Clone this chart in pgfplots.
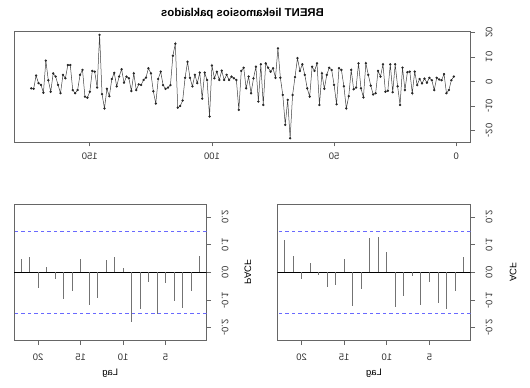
\documentclass[border=0pt]{standalone}
\usepackage{fontspec}
\setmainfont{Liberation Sans}
\usepackage{graphicx}
\usepackage{pgfplots}
\pgfplotsset{compat=1.18}
\definecolor{boxc}{gray}{0.40}
\definecolor{rblue}{RGB}{105,105,255}
\newcommand{\tickfont}{\fontsize{9.5}{11}\selectfont}
\newcommand{\mr}[1]{\reflectbox{#1}}
\pgfplotsset{
  rpanel/.style={
    scale only axis,
    x dir=reverse,
    axis line style={boxc, line width=0.7bp},
    tick style={boxc, line width=0.7bp},
    tick align=outside,
    major tick length=4.5bp,
    xtick pos=left, ytick pos=right,
    yticklabel pos=right,
    tick label style={font=\tickfont, text=black!80},
    yticklabel style={rotate=-90, anchor=south},
  },
  cibar/.style={color=rblue, line width=0.8bp, dash pattern=on 3.5bp off 3bp},
}
\pgfplotstableread{
t v
1 2.0
2 0.5
3 -3.5
4 -4.8
5 3.0
6 0.5
7 0.8
8 1.5
9 -3.5
10 0.5
11 1.5
12 -0.5
13 1.2
14 -0.8
15 1.0
16 -1.5
17 4.0
18 -4.8
19 4.0
20 3.8
21 -3.5
22 5.6
23 -9.6
24 -2.0
25 7.0
26 -4.4
27 7.0
28 -3.8
29 -4.2
30 7.0
31 2.0
32 4.3
33 -4.8
34 -5.3
35 -1.7
36 2.7
37 7.4
38 -6.5
39 -2.8
40 7.4
41 -2.5
42 -3.2
43 4.7
44 -6.0
45 -11.0
46 -2.0
47 4.7
48 5.4
49 -9.3
50 -1.4
51 4.7
52 5.6
53 2.7
54 -3.0
55 3.3
56 -9.6
57 7.4
58 4.3
59 6.0
60 -6.2
61 -2.8
62 2.7
63 7.0
64 4.3
65 9.5
66 1.8
67 -5.5
68 -23.2
69 -7.5
70 -17.7
71 -5.5
72 1.5
73 13.5
74 1.5
75 5.4
76 4.0
77 5.6
78 7.4
79 -9.6
80 7.0
81 -8.2
82 6.0
83 1.3
84 -4.8
85 2.0
86 -2.8
87 5.6
88 4.3
89 -11.6
90 0.6
91 1.3
92 2.0
93 0.6
94 2.7
95 0.6
96 4.4
97 0.6
98 4.0
99 1.3
100 6.5
101 -14.3
102 0.6
103 3.6
104 -7.0
105 3.6
106 -0.7
107 2.7
108 -2.0
109 1.5
110 8.0
111 1.5
112 -7.8
113 -10.0
114 -10.7
115 15.4
116 10.5
117 -1.5
118 -2.5
119 -3.0
120 -1.5
121 4.0
122 1.0
123 -9.0
124 -4.0
125 3.3
126 5.4
127 1.6
128 0.6
129 -1.4
130 -1.2
131 -3.5
132 3.3
133 -3.9
134 1.3
135 2.0
136 -0.5
137 5.0
138 2.0
139 -2.0
140 3.5
141 1.0
142 -6.0
143 -3.0
144 -11.0
145 -5.2
146 19.0
147 -2.5
148 4.0
149 4.3
150 -4.2
151 -6.6
152 -6.2
153 4.7
154 2.7
155 -3.5
156 -4.8
157 -3.5
158 6.7
159 6.7
160 1.3
161 2.7
162 -4.8
163 -1.4
164 2.0
165 3.3
166 -4.2
167 0.5
168 8.5
169 -4.6
170 -1.4
171 -0.7
172 2.4
173 -3.0
174 -2.8
}\resid
\pgfplotstableread{
lag acf
1 0.057
2 -0.066
3 -0.134
4 -0.112
5 -0.034
6 -0.118
7 -0.012
8 -0.086
9 -0.124
10 0.072
11 0.129
12 0.124
13 -0.061
14 -0.120
15 0.048
16 -0.047
17 -0.052
18 -0.011
19 0.033
20 -0.025
21 0.059
22 0.117
}\acftab
\pgfplotstableread{
lag pacf
1 0.058
2 -0.069
3 -0.128
4 -0.102
5 -0.040
6 -0.149
7 -0.036
8 -0.131
9 -0.181
10 0.017
11 0.054
12 0.043
13 -0.093
14 -0.119
15 0.049
16 -0.067
17 -0.095
18 -0.025
19 0.020
20 -0.058
21 0.055
22 0.048
}\pacftab
\begin{document}
\begin{tikzpicture}[x=1bp,y=1bp]
\useasboundingbox (0,0) rectangle (530,387);
% time series panel (mirrored layout)
\begin{axis}[rpanel, at={(14.3bp,245bp)}, anchor=south west,
  width=456.4bp, height=110.3bp,
  xmin=-5.92, xmax=180.92, ymin=-24.7, ymax=20.3,
  xtick={0,50,100,150}, xticklabels={\mr{0},\mr{50},\mr{100},\mr{150}},
  ytick={-20,-10,0,10,20}, yticklabels={\mr{-20},\mr{-10},\mr{0},\mr{10},\mr{20}},
  xticklabel shift=3bp, yticklabel shift=7bp]
\addplot[black!75, line width=0.5bp, mark=*, mark size=0.9bp,
  mark options={fill=black!85, draw=black!85}] table[x=t, y=v] {\resid};
\end{axis}
% ACF panel
\begin{axis}[rpanel, at={(277.3bp,46.3bp)}, anchor=south west,
  width=193.4bp, height=136.7bp,
  xmin=0.16, xmax=22.84, ymin=-0.247, ymax=0.247,
  xtick={5,10,15,20}, xticklabels={\mr{5},\mr{10},\mr{15},\mr{20}},
  ytick={-0.2,-0.1,0,0.1,0.2}, yticklabels={\mr{-0.2},\mr{-0.1},\mr{0.0},\mr{0.1},\mr{0.2}},
  xticklabel shift=5bp, yticklabel shift=7bp]
\addplot[black, line width=0.6bp] coordinates {(0.16,0) (22.84,0)};
\addplot[cibar] coordinates {(0.16,0.1486) (22.84,0.1486)};
\addplot[cibar] coordinates {(0.16,-0.1486) (22.84,-0.1486)};
\addplot[ycomb, black!55, line width=0.9bp] table[x=lag, y=acf] {\acftab};
\end{axis}
% PACF panel
\begin{axis}[rpanel, at={(14bp,46.3bp)}, anchor=south west,
  width=192.7bp, height=136.7bp,
  xmin=0.16, xmax=22.84, ymin=-0.247, ymax=0.247,
  xtick={5,10,15,20}, xticklabels={\mr{5},\mr{10},\mr{15},\mr{20}},
  ytick={-0.2,-0.1,0,0.1,0.2}, yticklabels={\mr{-0.2},\mr{-0.1},\mr{0.0},\mr{0.1},\mr{0.2}},
  xticklabel shift=5bp, yticklabel shift=7bp]
\addplot[black, line width=0.6bp] coordinates {(0.16,0) (22.84,0)};
\addplot[cibar] coordinates {(0.16,0.1486) (22.84,0.1486)};
\addplot[cibar] coordinates {(0.16,-0.1486) (22.84,-0.1486)};
\addplot[ycomb, black!55, line width=0.9bp] table[x=lag, y=pacf] {\pacftab};
\end{axis}
\node[font=\fontsize{11.4}{13}\selectfont\bfseries] at (242.5,373.5) {\mr{BRENT liekamosios paklaidos}};
\node[font=\tickfont] at (374,14) {\mr{Lag}};
\node[font=\tickfont] at (110.3,14) {\mr{Lag}};
\node[font=\tickfont, rotate=-90] at (513,114.7) {\mr{ACF}};
\node[font=\tickfont, rotate=-90] at (248,114.7) {\mr{PACF}};
\end{tikzpicture}
\end{document}
